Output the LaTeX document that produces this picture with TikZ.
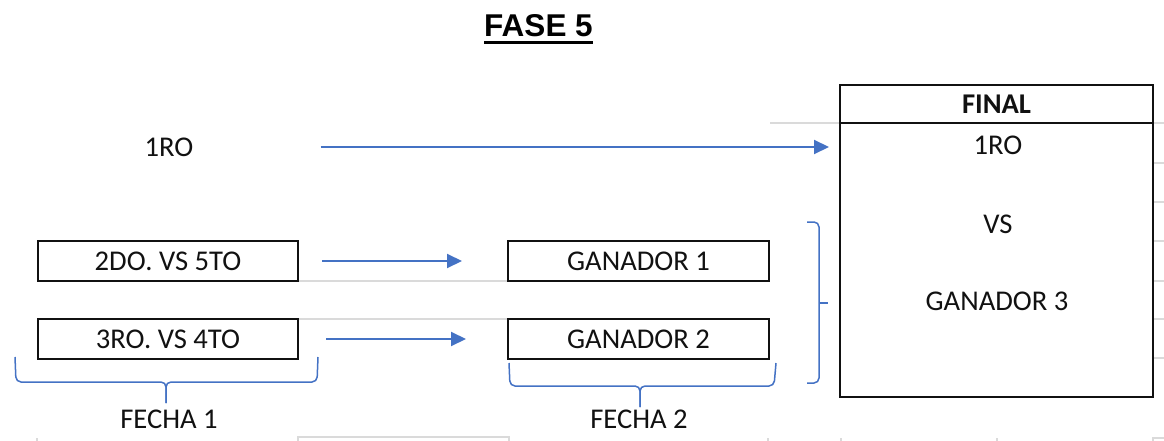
\documentclass[tikz,border=0pt]{standalone}
\usepackage{fontspec}
\setmainfont{Carlito}
\newfontfamily\titlefont{Liberation Sans}
\usetikzlibrary{arrows.meta}
\definecolor{xblue}{HTML}{4472C4}
\definecolor{gridc}{HTML}{DADADA}
\definecolor{ink}{HTML}{111111}
\begin{document}
\begin{tikzpicture}[x=1pt,y=-1pt,
  txt/.style={font=\fontsize{28.6}{34}\selectfont, inner sep=0pt, text=ink},
  cell/.style={draw=ink, line width=2pt, minimum width=260pt, minimum height=40pt, inner sep=0pt, font=\fontsize{28.6}{34}\selectfont, text=ink},
  arr/.style={draw=xblue, line width=2pt, -{Triangle[length=15pt,width=14pt]}},
  bracel/.style={draw=xblue, line width=1.5pt, rounded corners=5pt},
  gridl/.style={draw=gridc, line width=1.3pt}]
\useasboundingbox (0,0) rectangle (1164,441);

% faint spreadsheet grid fragments
\draw[gridl] (770,123) -- (840,123);
\foreach \yy in {123,163,202,241,281,319,358} \draw[gridl] (1154,\yy) -- (1164,\yy);
\draw[gridl] (298,281) -- (508,281);
\draw[gridl] (298,319) -- (508,319);
\draw[gridl] (37,438) -- (37,441);
\draw[gridl] (298,441) -- (298,437) -- (509,437) -- (509,441);
\foreach \xx in {768,841,997} \draw[gridl] (\xx,438) -- (\xx,441);
\draw[gridl] (1153,441) -- (1153,438) -- (1164,438);

% title
\node[inner sep=0pt, anchor=base, font=\titlefont\fontsize{31.5}{38}\selectfont\bfseries] (title) at (538.5,37) {FASE 5};
\draw[line width=2.5pt] ([yshift=-5.5pt]title.base west) -- ([yshift=-5.5pt]title.base east);

% left column
\node[txt] (r1) at (169,147) {1RO};
\node[cell] (m1) at (168,261) {2DO. VS 5TO};
\node[cell] (m2) at (168,339) {3RO. VS 4TO};
\node[txt] (f1) at (169,419) {FECHA 1};

% middle column
\node[cell, minimum width=261pt] (g1) at (638.5,261) {GANADOR 1};
\node[cell, minimum width=261pt] (g2) at (638.5,339) {GANADOR 2};
\node[txt] (f2) at (639,419) {FECHA 2};

% final box
\node[draw=ink, line width=2pt, minimum width=313pt, minimum height=38pt, inner sep=0pt,
      font=\fontsize{28.6}{34}\selectfont\bfseries, text=ink] (fh) at (996.5,104) {FINAL};
\node[draw=ink, line width=2pt, minimum width=313pt, minimum height=274pt, inner sep=0pt] (fb) at (996.5,260) {};
\node[txt] (fr1) at (998,145) {1RO};
\node[txt] (fvs) at (998,224) {VS};
\node[txt] (fg3) at (997,301) {GANADOR 3};

% arrows
\draw[arr, shorten <=127pt, shorten >=10pt] (r1.east) -- (fb.west |- r1.east);
\draw[arr, shorten <=23pt, shorten >=45pt] (m1.east) -- (g1.west);
\draw[arr, shorten <=27pt, shorten >=41pt] (m2.east) -- (g2.west);

% braces
\draw[bracel] (15,357) -- (16,382) -- (166,382) -- (166,403);
\draw[bracel] (318,357) -- (317,382) -- (166,382) -- (166,403);
\draw[bracel] (509,363) -- (510,386) -- (640,386) -- (640,407);
\draw[bracel] (776,363) -- (774,386) -- (640,386) -- (640,407);
\draw[bracel] (807,222) -- (819,222) -- (819,383) -- (807,383);
\draw[draw=xblue, line width=1.5pt] (819,303) -- (828,303);
\end{tikzpicture}
\end{document}
